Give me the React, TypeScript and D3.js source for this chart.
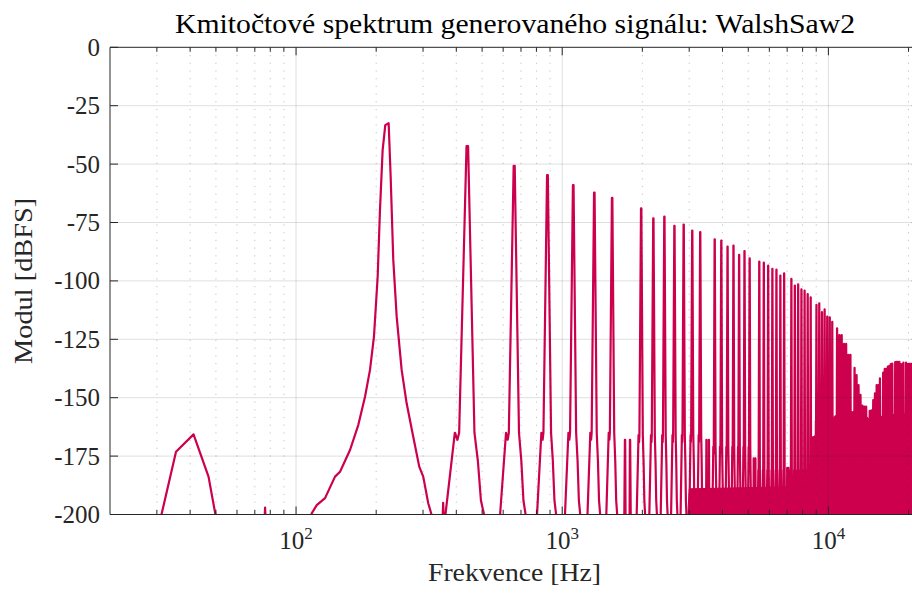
import React from 'react';
import * as d3 from 'd3';

// ---------- data ----------
const F0 = 220; // fundamental frequency, Hz

const harmonicNumbers = [
  2, 3, 4, 5, 6, 7, 9, 10, 11, 12, 13, 14, 15, 17, 18, 19, 20, 21, 22, 23,
  25, 26, 27, 28, 29, 30, 31, 33, 34, 35, 36, 37, 38, 39, 41, 42, 43, 44, 45, 46,
  47, 49, 50, 51, 52, 53, 54, 55, 57, 58, 59, 60, 61, 62, 63, 65, 66, 67, 68, 69,
  70, 71, 73, 74, 75, 76, 77, 78, 79, 81, 82, 83, 84, 85, 86, 87, 89, 90, 91, 92,
  93, 94, 95, 97, 98, 99, 100,
];
const harmonicPeakDb = [
  -42.3, -50.7, -54.7, -59.0, -62.2, -64.5, -68.9, -73.2, -72.5, -76.4, -75.9, -78.5, -79.1, -82.2, -82.8, -85.3, -84.9, -88.8, -87.2, -90.3,
  -91.7, -92.2, -93.5, -94.8, -95.2, -97.7, -96.8, -99.1, -102.0, -101.5, -103.6, -104.2, -105.6, -107.0, -110.3, -109.6, -113.4, -112.2, -115.3, -115.6,
  -117.5, -120.3, -123.2, -123.2, -127.0, -127.0, -131.7, -131.7, -137.2, -140.3, -144.6, -148.8, -153.4, -153.8, -153.8, -155.6, -155.4, -151.0, -148.1, -144.6,
  -144.6, -141.7, -139.3, -137.7, -137.7, -136.7, -136.4, -135.6, -135.4, -134.8, -134.6, -134.6, -134.6, -135.6, -135.6, -135.0, -135.0, -135.6, -135.5, -135.5,
  -135.5, -135.5, -135.5, -135.5, -135.5, -135.5, -135.5,
];

// suppressed harmonics only leave two small side spikes
const suppressedHarmonics = [8, 16, 24, 32, 40];
const suppressedSpikeDb = [-168, -168, -176, -180, -167];

// shoulder level of the peaks, by frequency band
const shoulderBandUpToHz = [1600, 3400, 5200, 8700, 23000];
const shoulderBandDb = [-165, -166, -171, -181, -160];

// low-frequency bump
const subHz = [30.5, 31.3, 35.4, 41.2, 46.9, 49.7, 50.5];
const subDb = [-205, -199.5, -173.1, -165.7, -183.8, -199.5, -205];

// fundamental lobe
const fundamentalHz = [112, 114.5, 119.6, 128.5, 140.1, 146.3, 159.5, 171.3, 181.6, 189.6, 196.2, 202.6, 206.7, 211.5, 216.4, 222.8, 226.7, 231.9, 238.8, 249.3, 260.3, 275.6, 290.3, 300.5, 313.8, 323.2, 326];
const fundamentalDb = [-205, -199.5, -196, -193, -183.8, -181.7, -172.4, -161.7, -149.6, -138.1, -123.9, -98.2, -69.6, -44, -33.3, -32.5, -55.4, -91, -115.3, -138.1, -152.4, -166.7, -179.5, -183.8, -195.2, -200.2, -205];

// tiny blips near the floor
const blipHz = [76.5, 357];
const blipDb = [-197, -195];

// dense noise floor (solid region under the harmonics)
const floorHz = [2950, 3000, 8600, 8680, 9300, 10000, 10500, 11500, 12500, 13500, 14200, 15000, 16000, 18000, 22050];
const floorDb = [-205, -189, -188, -167, -165, -161, -158, -156, -156, -157, -159, -158, -158, -157, -157];

// axes
const yTickValues = [-200, -175, -150, -125, -100, -75, -50, -25, 0];
const yTickLabels = ['-200', '-175', '-150', '-125', '-100', '-75', '-50', '-25', '0'];
const xDecades = [100, 1000, 10000];
const xDecadeExponents = ['2', '3', '4'];
const xMinorTicks = [30, 40, 50, 60, 70, 80, 90, 200, 300, 400, 500, 600, 700, 800, 900, 2000, 3000, 4000, 5000, 6000, 7000, 8000, 9000, 20000];

const titleText = 'Kmitočtové spektrum generovaného signálu: WalshSaw2';
const xLabelText = 'Frekvence [Hz]';
const yLabelText = 'Modul [dBFS]';

// ---------- layout ----------
const W = 912;
const H = 593;
const L = 110;
const R = 919.8;
const T = 47.3;
const B = 514.5;
const COLOR = '#cc004d';
const AXIS = '#262626';
const FONT = '"Liberation Serif", "Times New Roman", serif';

const x = d3.scaleLog().domain([20, 22050]).range([L, R]);
const y = d3.scaleLinear().domain([-200, 0]).range([B, T]);

const TROUGH = -205;
const peakOffsets = [-80, -45, -36, -30, -3, 3, 28, 42, 55, 80];
const spikeOffsets = [-50, -40, -36, -30, 30, 36, 40, 50];

function shoulderFor(f: number): number {
  for (let i = 0; i < shoulderBandUpToHz.length; i++) {
    if (f <= shoulderBandUpToHz[i]) return shoulderBandDb[i];
  }
  return shoulderBandDb[shoulderBandDb.length - 1];
}

function buildSpectrum(): [number, number][] {
  const pts: [number, number][] = [];
  subHz.forEach((f, i) => pts.push([f, subDb[i]]));
  const addBlip = (f: number, db: number) => {
    pts.push([f * 0.993, TROUGH]);
    pts.push([f, db]);
    pts.push([f * 1.007, TROUGH]);
  };
  addBlip(blipHz[0], blipDb[0]);
  fundamentalHz.forEach((f, i) => pts.push([f, fundamentalDb[i]]));
  addBlip(blipHz[1], blipDb[1]);
  for (let n = 2; n <= 100; n++) {
    const f = n * F0;
    const hi = harmonicNumbers.indexOf(n);
    if (hi >= 0) {
      const P = harmonicPeakDb[hi];
      const S = shoulderFor(f);
      const lv = [TROUGH, S, S - 3, S, P, P, S, S - 12, -194, TROUGH];
      peakOffsets.forEach((o, k) => pts.push([f + o, lv[k]]));
    } else {
      const si = suppressedHarmonics.indexOf(n);
      if (si >= 0) {
        const D = suppressedSpikeDb[si];
        const lv = [TROUGH, D, D, TROUGH, TROUGH, D, D, TROUGH];
        spikeOffsets.forEach((o, k) => pts.push([f + o, lv[k]]));
      }
    }
  }
  return pts;
}

export default function App() {
  const pts = buildSpectrum();
  const line = d3
    .line<[number, number]>()
    .x((d) => x(d[0]))
    .y((d) => y(d[1]));
  const floorArea = d3
    .area<number>()
    .x((_, i) => x(floorHz[i]))
    .y0(() => y(TROUGH))
    .y1((_, i) => y(floorDb[i]));

  const majorGrid = 'rgba(38,38,38,0.15)';
  const minorGrid = 'rgba(38,38,38,0.28)';

  return (
    <svg
      width={W}
      height={H}
      style={{ position: 'absolute', left: 0, top: 0, background: '#fff' }}
      fontFamily={FONT}
    >
      <defs>
        <clipPath id="plotclip">
          <rect x={L} y={T} width={R - L} height={B - T} />
        </clipPath>
      </defs>
      <rect x={0} y={0} width={W} height={H} fill="#fff" />

      <g clipPath="url(#plotclip)">
        <path d={floorArea(floorHz.map((_, i) => i)) || ''} fill={COLOR} stroke={COLOR} strokeWidth={1} />
        <path d={line(pts) || ''} fill="none" stroke={COLOR} strokeWidth={2.2} strokeLinejoin="round" />
      </g>

      {/* grid on top */}
      <g>
        {yTickValues
          .filter((v) => v !== -200 && v !== 0)
          .map((v) => (
            <line key={'gy' + v} x1={L} x2={R} y1={y(v)} y2={y(v)} stroke={majorGrid} strokeWidth={1} />
          ))}
        {xDecades.map((v) => (
          <line key={'gx' + v} x1={x(v)} x2={x(v)} y1={T} y2={B} stroke={majorGrid} strokeWidth={1} />
        ))}
        {xMinorTicks.map((v) => (
          <line
            key={'gm' + v}
            x1={x(v)}
            x2={x(v)}
            y1={T}
            y2={B}
            stroke={minorGrid}
            strokeWidth={1}
            strokeDasharray="1.2,6.5"
          />
        ))}
      </g>

      {/* axes box */}
      <g stroke={AXIS} strokeWidth={1} fill="none">
        <line x1={L} x2={R} y1={T} y2={T} />
        <line x1={L} x2={R} y1={B} y2={B} />
        <line x1={L} x2={L} y1={T} y2={B} />
        <line x1={R} x2={R} y1={T} y2={B} />
        {yTickValues.map((v) => (
          <g key={'ty' + v}>
            <line x1={L} x2={L + 8} y1={y(v)} y2={y(v)} />
            <line x1={R} x2={R - 8} y1={y(v)} y2={y(v)} />
          </g>
        ))}
        {xDecades.map((v) => (
          <g key={'tx' + v}>
            <line x1={x(v)} x2={x(v)} y1={B} y2={B - 8} />
            <line x1={x(v)} x2={x(v)} y1={T} y2={T + 8} />
          </g>
        ))}
        {xMinorTicks.map((v) => (
          <g key={'tm' + v}>
            <line x1={x(v)} x2={x(v)} y1={B} y2={B - 4.5} />
            <line x1={x(v)} x2={x(v)} y1={T} y2={T + 4.5} />
          </g>
        ))}
      </g>

      {/* tick labels */}
      <g fill="#262626" fontSize={25}>
        {yTickValues.map((v, i) => (
          <text key={'ly' + v} x={L - 10} y={y(v) + 8.5} textAnchor="end">
            {yTickLabels[i]}
          </text>
        ))}
        {xDecades.map((v, i) => (
          <text key={'lx' + v} x={x(v)} y={548.5} textAnchor="middle">
            10
            <tspan dy={-10} fontSize={17}>
              {xDecadeExponents[i]}
            </tspan>
          </text>
        ))}
      </g>

      {/* labels */}
      <text
        x={515}
        y={32.5}
        textAnchor="middle"
        fontSize={27.5}
        fill="#000"
        textLength={680}
        lengthAdjust="spacingAndGlyphs"
      >
        {titleText}
      </text>
      <text
        x={514.5}
        y={581}
        textAnchor="middle"
        fontSize={26}
        fill="#262626"
        textLength={173}
        lengthAdjust="spacingAndGlyphs"
      >
        {xLabelText}
      </text>
      <text
        transform={`translate(32, ${(T + B) / 2}) rotate(-90)`}
        textAnchor="middle"
        fontSize={26}
        fill="#262626"
        textLength={166}
        lengthAdjust="spacingAndGlyphs"
      >
        {yLabelText}
      </text>
    </svg>
  );
}
